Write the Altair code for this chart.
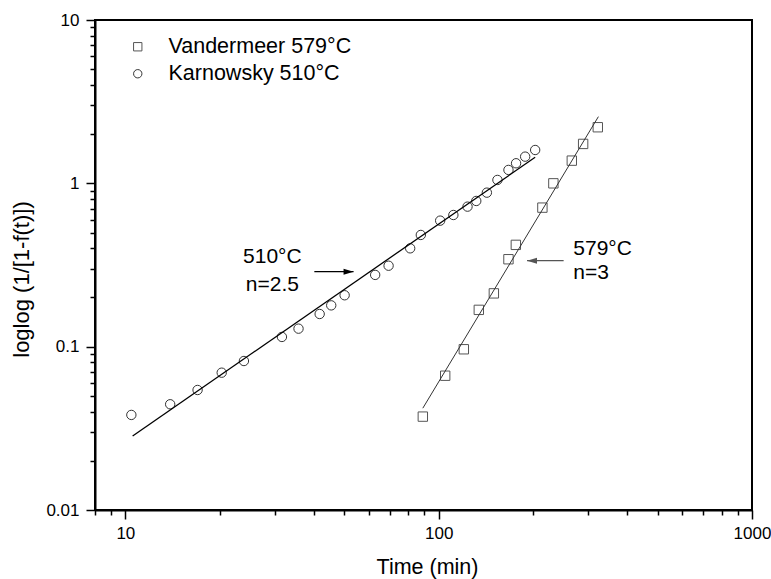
import altair as alt
import pandas as pd

# ---------------- data ----------------
series_names = ["Vandermeer 579°C", "Karnowsky 510°C"]

karn_t = [10.45, 13.9, 17.0, 20.3, 23.9, 31.6, 35.7, 41.7, 45.4, 50.1, 62.7, 69.2,
          81.1, 87.7, 101.1, 111.4, 123.6, 131.8, 142.5, 154.0, 167.0, 176.6, 188.8, 203.2]
karn_y = [0.0382, 0.0444, 0.0543, 0.0693, 0.0817, 0.1147, 0.1289, 0.1585, 0.179, 0.2064,
          0.275, 0.313, 0.400, 0.483, 0.591, 0.640, 0.720, 0.780, 0.877, 1.049, 1.208,
          1.327, 1.457, 1.60]

vand_t = [89.0, 104.9, 120.3, 134.3, 150.0, 167.0, 176.3, 214.3, 232.3, 266.0, 289.1, 322.0]
vand_y = [0.0373, 0.0664, 0.0964, 0.168, 0.212, 0.343, 0.420, 0.710, 1.0, 1.377, 1.743, 2.205]

fit510_t = [10.55, 203.2]
fit510_y = [0.0284, 1.444]
fit579_t = [89.0, 323.4]
fit579_y = [0.0420, 2.56]

ann510_text = ["510°C", "n=2.5"]
ann510_t = [29.45, 29.45]
ann510_y = [0.354, 0.240]
ann579_text = ["579°C", "n=3"]
ann579_t = [268.9, 268.9]
ann579_y = [0.396, 0.2825]

arrow_t = [40.1, 250.5]
arrow_t2 = [53.5, 191.4]
arrow_y = [0.288, 0.336]
arrow_color = ["#000000", "#555555"]
arrow_head = ["M 0 0 L -2 -0.6 L -2 0.6 Z", "M 0 0 L 2 -0.6 L 2 0.6 Z"]

x_ticks = [8, 9, 10, 20, 30, 40, 50, 60, 70, 80, 90, 100, 200, 300, 400, 500, 600,
           700, 800, 900, 1000]
y_ticks = [0.01, 0.02, 0.03, 0.04, 0.05, 0.06, 0.07, 0.08, 0.09,
           0.1, 0.2, 0.3, 0.4, 0.5, 0.6, 0.7, 0.8, 0.9,
           1, 2, 3, 4, 5, 6, 7, 8, 9, 10]

# ---------------- tables ----------------
pts = pd.DataFrame({
    "t": vand_t + karn_t,
    "y": vand_y + karn_y,
    "series": [series_names[0]] * len(vand_t) + [series_names[1]] * len(karn_t),
})
fit510 = pd.DataFrame({"t": fit510_t, "y": fit510_y})
fit579 = pd.DataFrame({"t": fit579_t, "y": fit579_y})
ann510 = pd.DataFrame({"t": ann510_t, "y": ann510_y, "txt": ann510_text})
ann579 = pd.DataFrame({"t": ann579_t, "y": ann579_y, "txt": ann579_text})
arrows = pd.DataFrame({"t": arrow_t, "t2": arrow_t2, "y": arrow_y,
                       "c": arrow_color, "head": arrow_head})

FONT = "Liberation Sans"
major_test = "abs(log(datum.value)/LN10 - round(log(datum.value)/LN10)) < 0.001"

x_scale = alt.Scale(type="log", domain=[8, 1000], nice=False)
y_scale = alt.Scale(type="log", domain=[0.01, 10], nice=False)

x_axis = alt.Axis(
    title="Time (min)", values=x_ticks,
    labelExpr=f"({major_test}) ? format(datum.value, '~g') : ''",
    tickSize={"condition": {"test": major_test, "value": 9}, "value": 5},
    tickColor="black", tickWidth=1.5, domainColor="black", domainWidth=2,
    labelFontSize=17, labelColor="black", labelPadding=6, labelOverlap=False,
    labelFlush=False, grid=False,
    titleFontSize=21.5, titleFontWeight="normal", titleColor="black",
    titleX=332, titleY=57, titleAlign="center", titleBaseline="middle",
)
y_axis = alt.Axis(
    title="loglog (1/[1-f(t)])", values=y_ticks,
    labelExpr=f"({major_test}) ? format(datum.value, '~g') : ''",
    tickSize={"condition": {"test": major_test, "value": 9}, "value": 5},
    tickColor="black", tickWidth=1.5, domainColor="black", domainWidth=2,
    labelFontSize=17, labelColor="black", labelPadding=7, labelOverlap=False,
    labelFlush=False, grid=False,
    titleFontSize=22, titleFontWeight="normal", titleColor="black",
    titleX=-74, titleY=259, titleAlign="center", titleBaseline="middle", titleAngle=270,
)

legend_spec = alt.Legend(
    orient="none", legendX=32, legendY=16, title=None,
    labelFontSize=21.5, labelFont=FONT, labelColor="black",
    labelLimit=0, labelOffset=20, rowPadding=4, padding=0,
    symbolSize=70, symbolStrokeWidth=1, symbolFillColor="transparent")

points = alt.Chart(pts).mark_point(filled=False, strokeWidth=1, size=88, opacity=1).encode(
    x=alt.X("t:Q", scale=x_scale, axis=x_axis),
    y=alt.Y("y:Q", scale=y_scale, axis=y_axis),
    shape=alt.Shape("series:N", title=None,
                    scale=alt.Scale(domain=series_names, range=["square", "circle"]),
                    legend=legend_spec),
    color=alt.Color("series:N", title=None,
                    scale=alt.Scale(domain=series_names, range=["#555555", "#333333"]),
                    legend=legend_spec),
)

line510 = alt.Chart(fit510).mark_line(color="black", strokeWidth=1.3).encode(
    x=alt.X("t:Q", scale=x_scale), y=alt.Y("y:Q", scale=y_scale))
line579 = alt.Chart(fit579).mark_line(color="#333333", strokeWidth=1).encode(
    x=alt.X("t:Q", scale=x_scale), y=alt.Y("y:Q", scale=y_scale))

arrow_lines = alt.Chart(arrows).mark_rule(strokeWidth=1.2).encode(
    x=alt.X("t:Q", scale=x_scale), x2="t2:Q", y=alt.Y("y:Q", scale=y_scale),
    stroke=alt.Stroke("c:N", scale=None, legend=None))
arrow_heads = alt.Chart(arrows).mark_point(filled=True, size=100, opacity=1, strokeWidth=0).encode(
    x=alt.X("t2:Q", scale=x_scale), y=alt.Y("y:Q", scale=y_scale),
    shape=alt.Shape("head:N", scale=None, legend=None),
    fill=alt.Fill("c:N", scale=None, legend=None))

text510 = alt.Chart(ann510).mark_text(align="center", baseline="middle", fontSize=21,
                                      font=FONT, color="black").encode(
    x=alt.X("t:Q", scale=x_scale), y=alt.Y("y:Q", scale=y_scale), text="txt:N")
text579 = alt.Chart(ann579).mark_text(align="left", baseline="middle", fontSize=21,
                                      font=FONT, color="black").encode(
    x=alt.X("t:Q", scale=x_scale), y=alt.Y("y:Q", scale=y_scale), text="txt:N")

chart = alt.layer(points, line510, line579, arrow_lines, arrow_heads, text510, text579).resolve_scale(
    shape="independent", color="independent", fill="independent", stroke="independent"
).properties(
    width=657, height=490,
    autosize=alt.AutoSizeParams(type="none"),
    padding={"left": 95, "top": 20, "right": 19, "bottom": 69},
    background="white",
).configure(font=FONT).configure_view(stroke="black", strokeWidth=2)

chart.save("out.html", embed_options={"renderer": "svg", "actions": False})
